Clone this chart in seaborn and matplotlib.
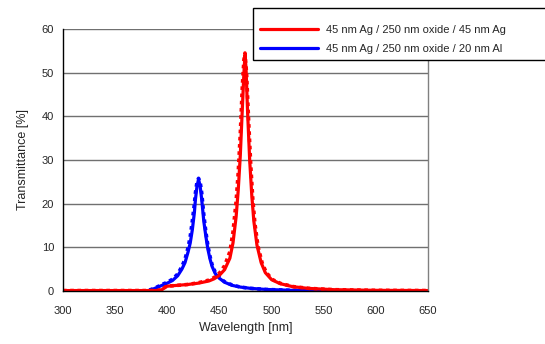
import matplotlib
matplotlib.use("Agg")
import matplotlib.pyplot as plt
import matplotlib.patches as mpatches
import numpy as np
import pandas as pd
import seaborn as sns

# Ag / oxide / Ag filter, solid curve
wl_ag = [300, 390, 395, 398, 400, 410, 420, 430, 440, 445, 450, 455, 460, 463, 466, 468,
         470, 472, 473.5, 474.5, 475.5, 477, 479, 481, 483, 486, 490, 494, 500, 508, 520,
         535, 560, 600, 650]
t_ag = [0.1, 0.1, 0.3, 0.9, 1.1, 1.3, 1.5, 1.8, 2.3, 2.8, 3.6, 4.9, 7.5, 11, 17, 23,
        31, 42, 50, 54, 51, 41, 30, 22, 16, 10.5, 6.5, 4.2, 2.6, 1.7, 1.0,
        0.6, 0.3, 0.15, 0.1]
# Ag / oxide / Ag filter, dotted curve
wl_ag_dot = [300, 390, 395, 398, 400, 410, 420, 430, 440, 445, 450, 455, 460, 463, 466, 468,
             470, 472, 473.5, 474.5, 476, 478, 480, 482, 484, 487, 491, 495, 501, 509, 521,
             536, 560, 600, 650]
t_ag_dot = [0.1, 0.1, 0.3, 0.9, 1.1, 1.3, 1.5, 1.9, 2.5, 3.1, 4.1, 5.8, 9, 13.5, 20.5, 27,
            36, 47, 53, 54.5, 50, 39, 29, 21, 15.5, 10.2, 6.4, 4.2, 2.6, 1.7, 1.0,
            0.6, 0.3, 0.15, 0.1]

# Ag / oxide / Al filter, solid curve
wl_al = [300, 380, 385, 390, 395, 400, 405, 410, 414, 417, 420, 422, 424, 426, 427, 428.5,
         430, 431.5, 433, 435, 437, 439, 441, 443, 446, 450, 455, 462, 470, 480, 495,
         520, 560, 650]
t_al = [0, 0, 0.3, 0.8, 1.3, 1.8, 2.4, 3.5, 5, 6.5, 9, 11, 14, 18, 21, 24,
        25.6, 24, 21, 16, 12.5, 9.5, 7.3, 5.6, 4.0, 2.9, 2.0, 1.3, 0.9, 0.6, 0.35,
        0.15, 0.05, 0]
# Ag / oxide / Al filter, dotted curve
wl_al_dot = [300, 380, 385, 390, 395, 400, 405, 410, 414, 417, 420, 422, 424, 426, 427, 428.5,
             430, 431.5, 433, 435, 437, 439, 441, 443, 446, 450, 455, 462, 470, 480, 495,
             520, 560, 650]
t_al_dot = [0, 0, 0.4, 0.9, 1.5, 2.0, 2.7, 3.9, 5.6, 7.3, 10, 12.5, 16, 20, 22.5, 25,
            25.8, 25, 22.5, 17.5, 13.5, 10.3, 7.9, 6.0, 4.3, 3.1, 2.1, 1.4, 0.9, 0.6, 0.35,
            0.15, 0.05, 0]

labels = ["45 nm Ag / 250 nm oxide / 45 nm Ag", "45 nm Ag / 250 nm oxide / 20 nm Al"]
colors = ["#ff0000", "#0000ff"]

sns.set_style("white")
plt.rcParams["font.family"] = ["Liberation Sans", "DejaVu Sans"]

fig = plt.figure(figsize=(5.45, 3.44), dpi=100)
ax = fig.add_axes([63 / 545, 53 / 344, 365 / 545, 262 / 344])

al = pd.DataFrame({"wl": wl_al, "t": t_al})
al_dot = pd.DataFrame({"wl": wl_al_dot, "t": t_al_dot})
ag = pd.DataFrame({"wl": wl_ag, "t": t_ag})
ag_dot = pd.DataFrame({"wl": wl_ag_dot, "t": t_ag_dot})

sns.lineplot(data=al, x="wl", y="t", color=colors[1], lw=2.3, ax=ax, label="_nolegend_")
sns.lineplot(data=al_dot, x="wl", y="t", color=colors[1], lw=2.6, ls=(0, (1, 1)), ax=ax,
             label="_nolegend_")
sns.lineplot(data=ag, x="wl", y="t", color=colors[0], lw=2.3, ax=ax, label="_nolegend_")
sns.lineplot(data=ag_dot, x="wl", y="t", color=colors[0], lw=2.6, ls=(0, (1, 1)), ax=ax,
             label="_nolegend_")

ax.set_xlim(300, 650)
ax.set_ylim(0, 60)
ax.set_xticks(range(300, 651, 50))
ax.set_yticks(range(0, 61, 10))
ax.yaxis.grid(True, color="#707070", lw=1)
ax.set_axisbelow(True)

for s in ["left", "bottom"]:
    ax.spines[s].set_color("black")
    ax.spines[s].set_linewidth(1)
ax.spines["right"].set_color("#808080")
ax.spines["right"].set_linewidth(1)
ax.spines["top"].set_visible(False)

ax.tick_params(axis="x", direction="out", length=3, width=0.8, labelsize=8, pad=8, color="black")
ax.tick_params(axis="y", direction="inout", length=5, width=0.8, labelsize=8, pad=4, color="black")
ax.set_xlabel("Wavelength [nm]", fontsize=9, labelpad=4)
ax.set_ylabel("Transmittance [%]", fontsize=9, labelpad=9)

# legend box sticks out past the right edge of the figure
fig.patches.append(mpatches.Rectangle((253 / 545, 1 - 60 / 344), 320 / 545, 52 / 344,
                                      transform=fig.transFigure, fill=True, facecolor="white",
                                      edgecolor="black", lw=1, zorder=5))
handles = [plt.Line2D([], [], color=c, lw=2.3) for c in colors]
leg = fig.legend(handles, labels, loc="upper left", bbox_to_anchor=(260 / 545, 1 - 25 / 344),
                 frameon=False, fontsize=8, handlelength=5.2, handletextpad=0.7,
                 labelspacing=0.78, borderpad=0, borderaxespad=0)
leg.set_zorder(6)

fig.savefig("out.png", dpi=100)
